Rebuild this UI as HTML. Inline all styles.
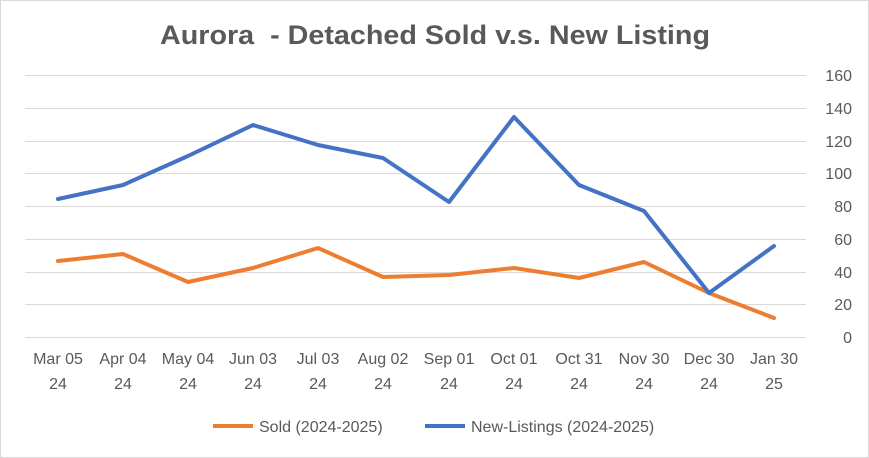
<!DOCTYPE html>
<html><head><meta charset="utf-8"><style>
html,body{margin:0;padding:0;background:#fff}
svg{display:block}
text{font-family:"Liberation Sans",sans-serif;fill:#595959}
</style></head><body>
<svg width="869" height="458" viewBox="0 0 869 458" xmlns="http://www.w3.org/2000/svg">
<rect x="0.5" y="0.5" width="868" height="457" fill="#fff" stroke="#d9d9d9"/>
<text x="160" y="44" font-size="27" font-weight="bold" textLength="550" lengthAdjust="spacingAndGlyphs" xml:space="preserve">Aurora  - Detached Sold v.s. New Listing</text>
<g stroke="#d9d9d9" stroke-width="1">
<line x1="25" x2="806" y1="75.5" y2="75.5"/>
<line x1="25" x2="806" y1="108.5" y2="108.5"/>
<line x1="25" x2="806" y1="141.5" y2="141.5"/>
<line x1="25" x2="806" y1="173.5" y2="173.5"/>
<line x1="25" x2="806" y1="206.5" y2="206.5"/>
<line x1="25" x2="806" y1="239.5" y2="239.5"/>
<line x1="25" x2="806" y1="272.5" y2="272.5"/>
<line x1="25" x2="806" y1="304.5" y2="304.5"/>
<line x1="25" x2="806" y1="337.5" y2="337.5"/>
</g>
<g font-size="16" text-anchor="end">
<text x="852" y="81">160</text><text x="852" y="114">140</text><text x="852" y="147">120</text>
<text x="852" y="179">100</text><text x="852" y="212">80</text><text x="852" y="245">60</text>
<text x="852" y="278">40</text><text x="852" y="310">20</text><text x="852" y="343">0</text>
</g>
<g font-size="16" text-anchor="middle">
<text x="58" y="364">Mar 05</text><text x="58" y="389">24</text>
<text x="123" y="364">Apr 04</text><text x="123" y="389">24</text>
<text x="188" y="364">May 04</text><text x="188" y="389">24</text>
<text x="253" y="364">Jun 03</text><text x="253" y="389">24</text>
<text x="318" y="364">Jul 03</text><text x="318" y="389">24</text>
<text x="383" y="364">Aug 02</text><text x="383" y="389">24</text>
<text x="449" y="364">Sep 01</text><text x="449" y="389">24</text>
<text x="514" y="364">Oct 01</text><text x="514" y="389">24</text>
<text x="579" y="364">Oct 31</text><text x="579" y="389">24</text>
<text x="644" y="364">Nov 30</text><text x="644" y="389">24</text>
<text x="709" y="364">Dec 30</text><text x="709" y="389">24</text>
<text x="774" y="364">Jan 30</text><text x="774" y="389">25</text>
</g>
<polyline fill="none" stroke="#ed7d31" stroke-width="4" stroke-linejoin="round" stroke-linecap="round"
points="58,261 123,254 188,282 253,268 318,248 383,277 449,275 514,268 579,278 644,262 709,293 774,318"/>
<polyline fill="none" stroke="#4472c4" stroke-width="4" stroke-linejoin="round" stroke-linecap="round"
points="58,199 123,185 188,156 253,125 318,145 383,158 449,202 514,117 579,185 644,211 709,293 774,246"/>
<line x1="213" x2="253" y1="426" y2="426" stroke="#ed7d31" stroke-width="4"/>
<text x="259" y="432" font-size="16">Sold (2024-2025)</text>
<line x1="425" x2="465" y1="426" y2="426" stroke="#4472c4" stroke-width="4"/>
<text x="471" y="432" font-size="16">New-Listings (2024-2025)</text>
</svg>
</body></html>
